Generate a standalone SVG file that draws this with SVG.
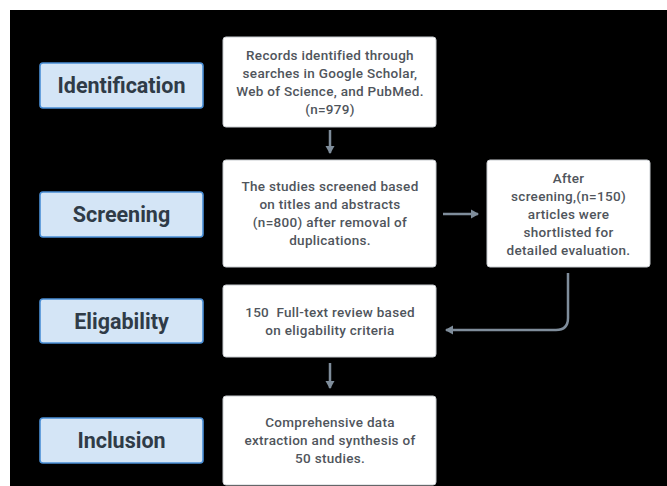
<svg xmlns="http://www.w3.org/2000/svg" width="667" height="486" viewBox="0 0 667 486">
<defs>
<style>
.stage rect{fill:#d4e5f6;stroke:#4a8fd6;stroke-width:1.6}
.stage text{font-family:Roboto,"Liberation Sans",sans-serif;font-weight:700;font-size:21.5px;fill:#2f3b47;text-anchor:middle}
.box rect{fill:#ffffff;stroke:#c8ccd0;stroke-width:1}
.box text{font-family:Roboto,"Liberation Sans",sans-serif;font-weight:500;font-size:13.5px;fill:#50555c;text-anchor:middle;letter-spacing:0.3px;white-space:pre}
.conn{fill:none;stroke:#7f8d9b;stroke-width:2.5}
</style>
<marker id="ah" markerWidth="9" markerHeight="10" refX="7" refY="5" orient="auto" markerUnits="userSpaceOnUse">
<path d="M0,0.5 L8,5 L0,9.5 Z" fill="#7f8d9b"/>
</marker>
</defs>
<rect x="0" y="0" width="667" height="486" fill="#ffffff"/>
<rect x="10" y="10" width="657" height="476" fill="#000000"/>

<g id="identification" class="stage"><rect x="40" y="63" width="163" height="45" rx="3"/><text x="121.5" y="93">Identification</text></g>
<g id="screening" class="stage"><rect x="40" y="192" width="163" height="45" rx="3"/><text x="121.5" y="222">Screening</text></g>
<g id="eligability" class="stage"><rect x="40" y="299" width="163" height="44" rx="3"/><text x="121.5" y="328.5">Eligability</text></g>
<g id="inclusion" class="stage"><rect x="40" y="418" width="163" height="45" rx="3"/><text x="121.5" y="448">Inclusion</text></g>

<g id="records" class="box"><rect x="223" y="37" width="213" height="90" rx="3"/>
<text x="330" y="59.5">Records identified through</text>
<text x="330" y="77.5">searches in Google Scholar,</text>
<text x="330" y="95.5">Web of Science, and PubMed.</text>
<text x="330" y="113.5">(n=979)</text></g>

<g id="screened" class="box"><rect x="223" y="160" width="213" height="107" rx="3"/>
<text x="330" y="191">The studies screened based</text>
<text x="330" y="209">on titles and abstracts</text>
<text x="330" y="227">(n=800) after removal of</text>
<text x="330" y="245">duplications.</text></g>

<g id="shortlisted" class="box"><rect x="487" y="160" width="163" height="107" rx="3"/>
<text x="568.5" y="182.5">After</text>
<text x="568.5" y="200.5">screening,(n=150)</text>
<text x="568.5" y="218.5">articles were</text>
<text x="568.5" y="236.5">shortlisted for</text>
<text x="568.5" y="254.5">detailed evaluation.</text></g>

<g id="fulltext" class="box"><rect x="223" y="285" width="213" height="72" rx="3"/>
<text x="330" y="316.5" xml:space="preserve">150  Full-text review based</text>
<text x="330" y="334.5">on eligability criteria</text></g>

<g id="synthesis" class="box"><rect x="223" y="396" width="213" height="89" rx="3"/>
<text x="330" y="427">Comprehensive data</text>
<text x="330" y="445">extraction and synthesis of</text>
<text x="330" y="463">50 studies.</text></g>

<g id="connectors">
<path class="conn" d="M330,130 L330,153" marker-end="url(#ah)"/>
<path class="conn" d="M443,214 L478,214" marker-end="url(#ah)"/>
<path class="conn" d="M568,273 L568,318 Q568,330 556,330 L446,330" marker-end="url(#ah)"/>
<path class="conn" d="M330,363 L330,388" marker-end="url(#ah)"/>
</g>
</svg>
